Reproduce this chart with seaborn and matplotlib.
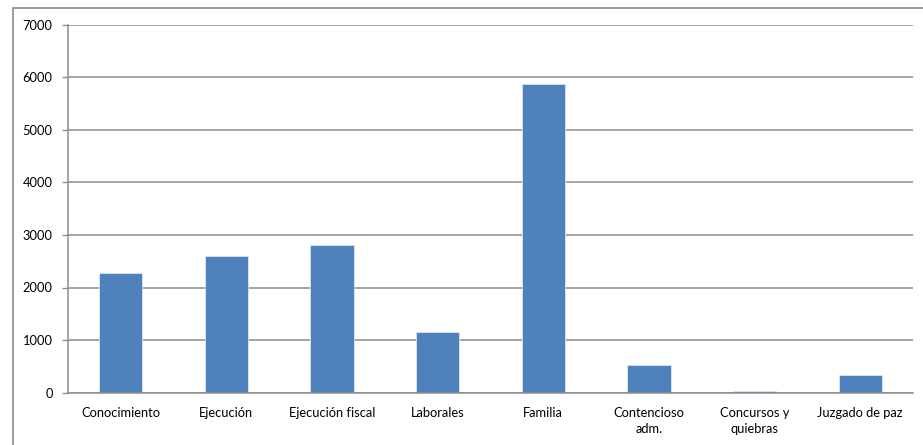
import matplotlib
matplotlib.use('Agg')
import matplotlib.pyplot as plt
import seaborn as sns
import numpy as np
from matplotlib.patches import Rectangle

# data
categorias = ['Conocimiento', 'Ejecución', 'Ejecución fiscal', 'Laborales',
              'Familia', 'Contencioso\nadm.', 'Concursos y\nquiebras', 'Juzgado de paz']
valores = [2270, 2600, 2800, 1160, 5865, 520, 32, 337]
y_ticks = [0, 1000, 2000, 3000, 4000, 5000, 6000, 7000]

sns.set_style('white')
plt.rcParams['font.family'] = ['Lato', 'DejaVu Sans']

fig = plt.figure(figsize=(9.23, 4.45), dpi=100)
ax = fig.add_axes([68/923, (445-392.7)/445, 845/923, (392.7-24.5)/445])

sns.barplot(x=categorias, y=valores, color='#4F81BD', width=0.41,
            edgecolor='#dce6f2', linewidth=0.6, saturation=1, ax=ax)

ax.set_xlim(-0.5, len(categorias) - 0.5)
ax.set_ylim(0, 7000)
ax.set_yticks(y_ticks)
ax.set_yticklabels([str(v) for v in y_ticks], fontsize=9.3, color='black')
ax.yaxis.grid(True, color='#8c8c8c', linewidth=1.1)
ax.set_axisbelow(True)

# category boundary ticks like excel
ax.set_xticks(np.arange(len(categorias)), categorias, fontsize=9.3, color='black',
              linespacing=1.45)
ax.set_xticks(np.arange(-0.5, len(categorias)), minor=True)
ax.tick_params(axis='x', which='major', length=0, pad=10)
ax.tick_params(axis='x', which='minor', length=4, color='#8c8c8c', width=1)
ax.tick_params(axis='y', length=4, color='#8c8c8c', width=1, pad=7, left=True)

for s in ['top', 'right']:
    ax.spines[s].set_visible(False)
for s in ['left', 'bottom']:
    ax.spines[s].set_color('#8c8c8c')
    ax.spines[s].set_linewidth(1.1)

# outer chart frame (clipped by image edges)
fig.patches.append(Rectangle((13/923, -0.1), 1.2, (445-8)/445 + 0.1,
                             transform=fig.transFigure, fill=False,
                             edgecolor='#8c8c8c', linewidth=1.2))

fig.savefig('out.png', dpi=100, facecolor='white')
